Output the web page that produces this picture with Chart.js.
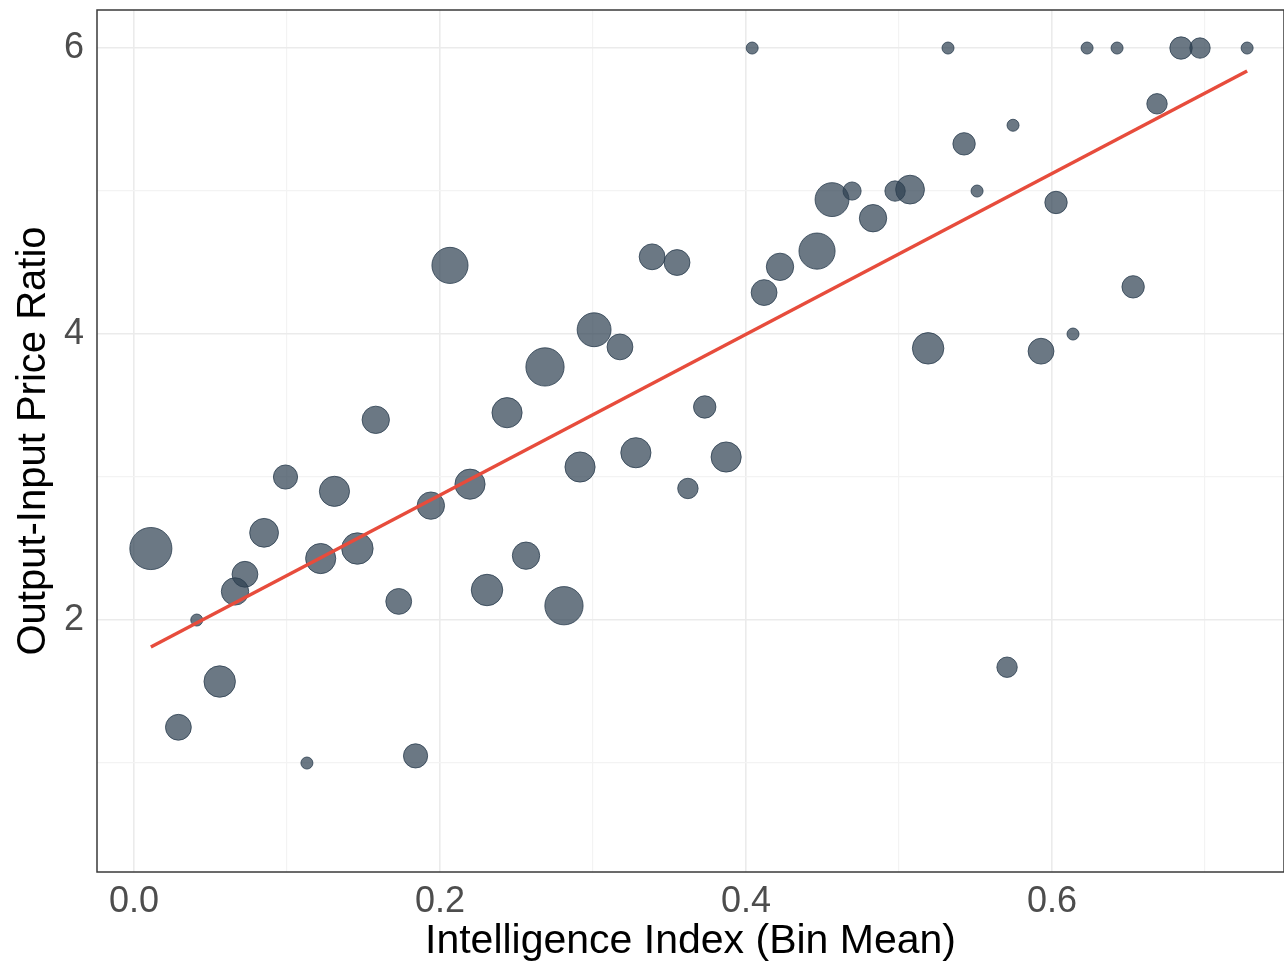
<!DOCTYPE html>
<html>
<head>
<meta charset="utf-8">
<script src="https://cdn.jsdelivr.net/npm/chart.js@4/dist/chart.umd.min.js"></script>
<style>
  body { margin: 0; background: #fff; }
  canvas { display: block; }
</style>
</head>
<body>
<canvas id="chart" width="1284" height="966"></canvas>
<script>
// Bin means (x), price ratios (y) and number of models per bin
const binMeans = [0.011, 0.029, 0.041, 0.056, 0.066, 0.0725, 0.085, 0.099, 0.113, 0.122,
  0.131, 0.146, 0.158, 0.173, 0.184, 0.194, 0.2065, 0.2196, 0.2307, 0.2438,
  0.2562, 0.2686, 0.281, 0.2915, 0.3007, 0.3176, 0.328, 0.3386, 0.3549, 0.362,
  0.373, 0.387, 0.404, 0.4118, 0.4222, 0.4464, 0.4562, 0.4693, 0.483, 0.4974,
  0.5072, 0.519, 0.532, 0.5425, 0.551, 0.5706, 0.5745, 0.5928, 0.6026, 0.6137,
  0.6229, 0.6425, 0.653, 0.6686, 0.6843, 0.6967, 0.7275];
const priceRatios = [2.50, 1.25, 2.00, 1.57, 2.20, 2.32, 2.61, 3.00, 1.00, 2.43,
  2.90, 2.50, 3.40, 2.13, 1.05, 2.80, 4.48, 2.95, 2.21, 3.45,
  2.45, 3.77, 2.10, 3.07, 4.03, 3.91, 3.17, 4.54, 4.50, 2.92,
  3.49, 3.14, 6.00, 4.29, 4.47, 4.58, 4.94, 5.00, 4.81, 5.00,
  5.01, 3.90, 6.00, 5.33, 5.00, 1.67, 5.46, 3.88, 4.92, 4.00,
  6.00, 6.00, 4.33, 5.61, 6.00, 6.00, 6.00];
const binCounts = [21, 7, 1, 11, 8, 7, 9, 6, 1, 10,
  10, 11, 8, 7, 6, 8, 15, 10, 11, 10,
  8, 17, 17, 10, 13, 7, 10, 7, 7, 4,
  5, 10, 1, 7, 8, 15, 13, 3, 8, 4,
  9, 11, 1, 5, 1, 4, 1, 7, 5, 1,
  1, 1, 5, 4, 5, 4, 1];

// Fitted line end points
const trendX = [0.011, 0.7275];
const trendY = [1.811, 5.839];

// Tick values and labels
const xTickValues = [0, 0.1, 0.2, 0.3, 0.4, 0.5, 0.6, 0.7];
const xTickLabels = { 0: '0.0', 0.2: '0.2', 0.4: '0.4', 0.6: '0.6' };
const yTickValues = [1, 2, 3, 4, 5, 6];
const yTickLabels = { 2: '2', 4: '4', 6: '6' };

const FONT = "'Liberation Sans', Arial, Helvetica, sans-serif";

// area-proportional size scale
function sizeToRadius(n) {
  return 4.2 * Math.sqrt(n) + 1.8;
}

const bubbles = binMeans.map((x, i) => ({ x: x, y: priceRatios[i], r: sizeToRadius(binCounts[i]) }));
const trend = trendX.map((x, i) => ({ x: x, y: trendY[i] }));

function gridColor(labels) {
  return ctx => (ctx.tick && labels[ctx.tick.value] !== undefined) ? '#ebebeb' : '#f3f3f3';
}
function gridWidth(labels) {
  return ctx => (ctx.tick && labels[ctx.tick.value] !== undefined) ? 1.6 : 1.2;
}

// no extra room for edge labels, the panel fills the canvas
function noPadding(s) {
  s.paddingTop = 0;
  s.paddingBottom = 0;
  s.paddingLeft = 0;
  s.paddingRight = 0;
}

// panel border
const panelBorder = {
  id: 'panelBorder',
  afterDatasetsDraw(chart) {
    const { ctx, chartArea: a } = chart;
    ctx.save();
    ctx.strokeStyle = '#3a3a3a';
    ctx.lineWidth = 1.5;
    ctx.strokeRect(a.left, a.top, a.right - a.left, a.bottom - a.top);
    ctx.restore();
  }
};

new Chart(document.getElementById('chart').getContext('2d'), {
  data: {
    datasets: [{
      type: 'line',
      data: trend,
      borderColor: '#e74c3c',
      borderWidth: 3.5,
      pointRadius: 0,
      fill: false,
      order: 0
    }, {
      type: 'bubble',
      data: bubbles,
      backgroundColor: 'rgba(44, 62, 80, 0.7)',
      borderColor: 'rgba(44, 62, 80, 0.8)',
      borderWidth: 1,
      order: 1
    }]
  },
  options: {
    responsive: false,
    animation: false,
    layout: { autoPadding: false, padding: { top: 10, right: 0, left: 0, bottom: 0 } },
    plugins: {
      legend: { display: false },
      tooltip: { enabled: false }
    },
    scales: {
      x: {
        type: 'linear',
        min: -0.0242,
        max: 0.7516,
        afterBuildTicks: s => { s.ticks = xTickValues.map(v => ({ value: v })); },
        afterFit: s => { s.height = 94; noPadding(s); },
        grid: { color: gridColor(xTickLabels), lineWidth: gridWidth(xTickLabels), drawTicks: false },
        border: { display: false },
        ticks: {
          padding: 8,
          color: '#4d4d4d',
          font: { family: FONT, size: 36 },
          maxRotation: 0,
          autoSkip: false,
          callback: v => xTickLabels[v] !== undefined ? xTickLabels[v] : ''
        },
        title: {
          display: true,
          text: 'Intelligence Index (Bin Mean)',
          color: '#000',
          font: { family: FONT, size: 41 },
          padding: { top: 0, bottom: 0 }
        }
      },
      y: {
        type: 'linear',
        min: 0.238,
        max: 6.266,
        afterBuildTicks: s => { s.ticks = yTickValues.map(v => ({ value: v })); },
        afterFit: s => { s.width = 97; noPadding(s); },
        grid: { color: gridColor(yTickLabels), lineWidth: gridWidth(yTickLabels), drawTicks: false },
        border: { display: false },
        ticks: {
          padding: 13,
          color: '#4d4d4d',
          font: { family: FONT, size: 36 },
          autoSkip: false,
          callback: v => yTickLabels[v] !== undefined ? yTickLabels[v] : ''
        },
        title: {
          display: true,
          text: 'Output-Input Price Ratio',
          color: '#000',
          font: { family: FONT, size: 40 },
          padding: { top: 10, bottom: 0 }
        }
      }
    }
  },
  plugins: [panelBorder]
});
</script>
</body>
</html>
